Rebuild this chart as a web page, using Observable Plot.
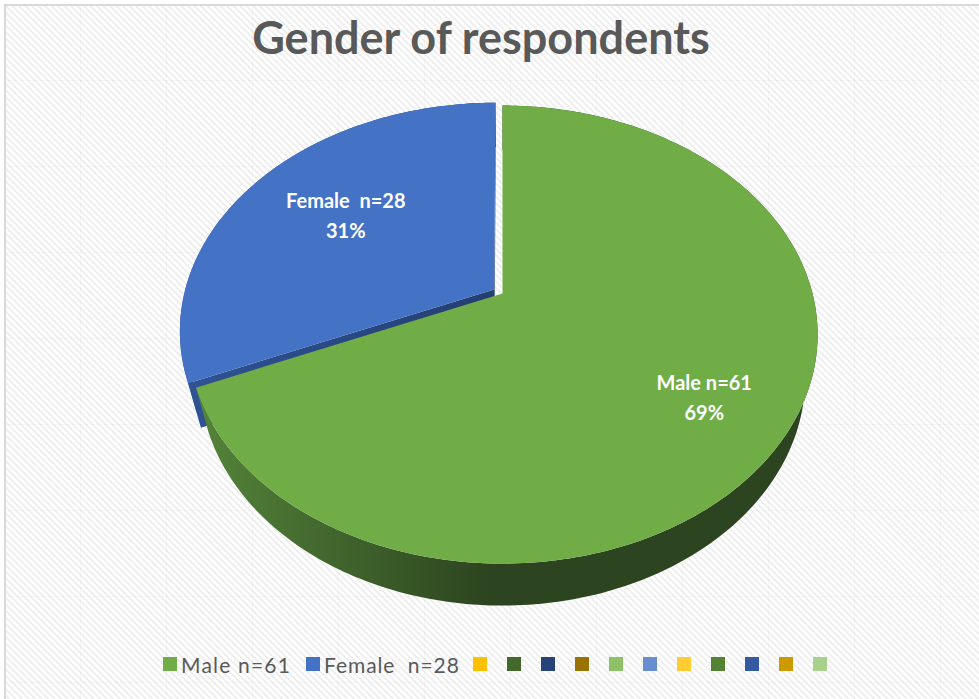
<!DOCTYPE html>
<html><head><meta charset="utf-8">
<script src="https://cdn.jsdelivr.net/npm/d3@7"></script>
<script src="https://cdn.jsdelivr.net/npm/@observablehq/plot@0.6"></script>
<style>
body{margin:0;background:#fff;}
#wrap{position:relative;width:979px;height:699px;overflow:hidden;font-family:Lato,"Open Sans",sans-serif;}
#bg{position:absolute;left:4px;top:4px;width:1000px;height:720px;border-left:2px solid #d9d9d9;border-top:2px solid #d9d9d9;
  background-color:#fff;
  background-image:
    linear-gradient(to right, rgba(0,0,0,0.022) 1px, transparent 1px),
    linear-gradient(to bottom, rgba(0,0,0,0.022) 1px, transparent 1px),
    repeating-linear-gradient(45deg, #ffffff 0px, #ffffff 1.6px, #e9e9e9 3px, #ffffff 4.6px);
  background-size:86px 86px, 86px 86px, auto;
  background-position:74px 74px, 74px 74px, 0 0;
}
#title{position:absolute;left:0;top:10px;width:962px;text-align:center;font-size:45px;line-height:54px;font-weight:bold;color:#595959;}
#plot{position:absolute;left:0;top:0;}
#plot svg text{white-space:pre;}
#legend{position:absolute;left:163px;top:652px;height:24px;display:flex;align-items:center;font-size:21px;color:#595959;letter-spacing:1.2px;white-space:pre;}
#legend .sw{width:14px;height:14px;margin-right:4px;flex:none;}
#legend .lb{margin-right:15px;}
#legend .lb.second{letter-spacing:0.9px;margin-right:13px;}
#legend .blank{margin-right:20px;}
</style>
</head><body>
<svg width="0" height="0" style="position:absolute">
  <defs>
    <linearGradient id="greenSide" gradientUnits="userSpaceOnUse" x1="195" y1="0" x2="490" y2="0">
      <stop offset="0" stop-color="#54843a"/>
      <stop offset="1" stop-color="#2c441f"/>
    </linearGradient>
    <linearGradient id="blueSide" gradientUnits="userSpaceOnUse" x1="180" y1="0" x2="480" y2="0">
      <stop offset="0" stop-color="#2f5395"/>
      <stop offset="1" stop-color="#253f73"/>
    </linearGradient>
  </defs>
</svg>
<div id="wrap">
  <div id="bg"></div>
  <div id="title">Gender of respondents</div>
  <div id="plot"></div>
  <div id="legend"></div>
</div>
<script>
// ---- data ----
const categories = ["Male n=61", "Female  n=28"];
const counts = [61, 28];
const sliceColors = ["#70AD47", "#4472C4"];
const sideColors = ["url(#greenSide)", "url(#blueSide)"];
const explodeAmounts = [0, 0.032];
const extraLegendColors = ["#FFC000", "#43682B", "#264478", "#997300", "#8CC168", "#698ED0", "#FFCD33", "#548235", "#335AA1", "#CC9A00", "#A9D18E"];

// ---- 3D pie projection (layout) ----
const W = 979, H = 699;
const CX = 502, CY = 293, S = 310, D = 3.9, TILT = Math.asin(0.715), THICK = 0.216;
const sa = Math.sin(TILT), ca = Math.cos(TILT);
function proj(u, v, h) {
  const yc = v * sa + h * ca;
  const zc = D + v * ca - h * sa;
  return [CX + S * D * u / zc, CY - S * D * yc / zc];
}
const total = d3.sum(counts);
let acc = 0;
const slices = counts.map((c, i) => {
  const a0 = acc / total * 2 * Math.PI;
  acc += c;
  const a1 = acc / total * 2 * Math.PI;
  const mid = (a0 + a1) / 2;
  const e = explodeAmounts[i];
  return {i, name: categories[i], count: c, pct: Math.round(c / total * 100) + "%", a0, a1, mid,
          eu: e * Math.sin(mid), ev: e * Math.cos(mid)};
});
function pt(s, r, a, h) {
  return proj(s.eu + r * Math.sin(a), s.ev + r * Math.cos(a), h);
}
function arc(s, h, from, to) {
  const n = Math.max(2, Math.ceil(Math.abs(to - from) / (Math.PI / 180)));
  const out = [];
  for (let k = 0; k <= n; k++) out.push(pt(s, 1, from + (to - from) * k / n, h));
  return out;
}
function area(p) {
  let s = 0;
  for (let k = 0; k < p.length; k++) { const a = p[k], b = p[(k + 1) % p.length]; s += a[0] * b[1] - b[0] * a[1]; }
  return s / 2;
}
const toRows = (p, id) => p.map(([x, y]) => ({x, y, id}));

// shadow: whole bottom disc, softened
const shadowPoly = [];
for (let k = 0; k <= 360; k++) { const a = k * Math.PI / 180; const [x, y] = proj(Math.sin(a), Math.cos(a), -THICK); shadowPoly.push([x + 2, y + 5]); }

const marks = [];
marks.push(Plot.line(toRows(shadowPoly, "shadow"), {x: "x", y: "y", fill: "#000", fillOpacity: 0.35, stroke: "none", ariaLabel: "pie-shadow"}));

// back-to-front order
const order = slices.slice().sort((p, q) => Math.cos(q.mid) - Math.cos(p.mid));
for (const s of order) {
  const wall = arc(s, 0, s.a0, s.a1).concat(arc(s, -THICK, s.a1, s.a0));
  marks.push(Plot.line(toRows(wall, "wall" + s.i), {x: "x", y: "y", fill: sideColors[s.i], stroke: "none"}));
  const ct = pt(s, 0, 0, 0), cb = pt(s, 0, 0, -THICK);
  const f0 = [ct, pt(s, 1, s.a0, 0), pt(s, 1, s.a0, -THICK), cb];
  const f1 = [ct, cb, pt(s, 1, s.a1, -THICK), pt(s, 1, s.a1, 0)];
  for (const [f, nm] of [[f0, "f0"], [f1, "f1"]]) {
    if (area(f) < -50) marks.push(Plot.line(toRows(f, nm + s.i), {x: "x", y: "y", fill: sideColors[s.i], stroke: "none"}));
  }
  const top = [ct].concat(arc(s, 0, s.a0, s.a1));
  marks.push(Plot.line(toRows(top, "top" + s.i), {x: "x", y: "y", fill: sliceColors[s.i], stroke: "none"}));
}

// labels
const labelR = 0.66;
const labelRows = slices.map(s => { const [x, y] = pt(s, labelR, s.mid, 0); return {x, y, text: s.name + "\n" + s.pct, i: s.i}; });
const labelShift = [[19, 16], [11, -1]];
for (const r of labelRows) {
  marks.push(Plot.text([r], {x: "x", y: "y", text: "text", fill: "white", fontSize: 20, fontWeight: "bold",
    fontFamily: "Lato, 'Open Sans', sans-serif", lineHeight: 1.5, dx: labelShift[r.i][0], dy: labelShift[r.i][1]}));
}

const chart = Plot.plot({
  width: W, height: H, margin: 0,
  x: {domain: [0, W], range: [0, W], axis: null},
  y: {domain: [0, H], range: [0, H], axis: null},
  style: {background: "transparent", overflow: "visible"},
  marks
});
document.getElementById("plot").appendChild(chart);
const sh = chart.querySelector('[aria-label="pie-shadow"]');
if (sh) sh.style.filter = "blur(4px)";

// legend
const legend = document.getElementById("legend");
categories.forEach((c, i) => {
  const sw = document.createElement("span"); sw.className = "sw"; sw.style.background = sliceColors[i]; legend.appendChild(sw);
  const lb = document.createElement("span"); lb.className = i === 1 ? "lb second" : "lb"; lb.textContent = c; legend.appendChild(lb);
});
extraLegendColors.forEach(col => {
  const sw = document.createElement("span"); sw.className = "sw blank"; sw.style.background = col; legend.appendChild(sw);
});
</script>
</body></html>
